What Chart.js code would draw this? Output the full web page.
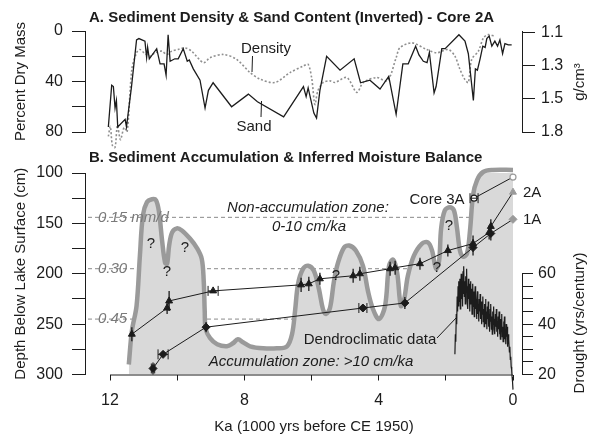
<!DOCTYPE html>
<html>
<head>
<meta charset="utf-8">
<script src="https://cdn.jsdelivr.net/npm/chart.js@4.4.0/dist/chart.umd.min.js"></script>
<style>
  html, body { margin: 0; padding: 0; background: #fff; }
  #wrap { position: relative; width: 593px; height: 434px; }
  #wrap canvas { position: absolute; left: 0; top: 0; }
</style>
</head>
<body>
<div id="wrap">
  <canvas id="bottomChart" width="593" height="434"></canvas>
  <canvas id="topChart" width="593" height="434"></canvas>
</div>
<script>
// ---- Panel A: core 2A profiles, [ka, value] ----
const sandProfile = [
  [12.05,76],[11.95,43],[11.90,44],[11.85,61],[11.81,55],[11.77,76],[11.55,70],[11.51,76],
  [11.36,44],[11.21,7],[11.14,6],[10.96,8],[10.91,21],[10.88,13],[10.83,22],[10.61,14],
  [10.51,26],[10.39,26],[10.33,35],[10.27,3],[10.21,24],[10.07,22],[9.97,22],[9.82,14],
  [9.70,24],[9.64,23],[9.52,30],[9.32,39],[9.17,61],[9.07,47],[8.93,41],[8.38,60],
  [7.88,50],[7.61,56],[6.83,68],[6.24,44],[6.16,52],[6.10,45],[5.93,65],[5.85,69],
  [5.75,47],[5.55,20],[5.15,31],[4.73,22],[4.54,41],[4.26,39],[3.96,46],[3.70,36],
  [3.48,66],[3.28,26],[3.12,26],[2.90,12],[2.80,19],[2.67,24],[2.56,25],[2.49,17],
  [2.35,49],[2.29,44],[2.12,14],[2.02,14],[1.61,3],[1.43,8],[1.33,18],[1.18,55],
  [1.12,30],[1.06,31],[0.98,22],[0.90,12],[0.83,13],[0.78,6],[0.71,4],[0.63,12],
  [0.54,8],[0.46,12],[0.39,7],[0.31,18],[0.24,10],[0.14,11],[0.04,11]
];
// dry bulk density, g/cm3
const densityProfile = [
  [12.05,1.84],[11.99,1.75],[11.93,1.92],[11.85,1.94],[11.78,1.74],[11.69,1.87],[11.58,1.76],
  [11.49,1.80],[11.35,1.32],[11.21,1.22],[11.11,1.20],[10.99,1.22],[10.81,1.24],[10.66,1.22],
  [10.46,1.21],[10.31,1.23],[10.16,1.21],[9.97,1.20],[9.77,1.19],[9.57,1.21],[9.22,1.28],
  [9.02,1.25],[8.63,1.23],[8.23,1.26],[7.83,1.34],[7.53,1.38],[7.09,1.40],[6.64,1.34],
  [6.24,1.30],[6.10,1.29],[5.99,1.38],[5.90,1.55],[5.81,1.45],[5.65,1.40],[5.45,1.39],
  [5.30,1.40],[4.95,1.37],[4.65,1.46],[4.46,1.40],[4.06,1.37],[3.74,1.39],[3.48,1.25],
  [3.37,1.19],[3.01,1.16],[2.57,1.20],[2.27,1.22],[1.93,1.20],[1.73,1.24],[1.58,1.32],
  [1.44,1.38],[1.33,1.40],[1.23,1.26],[1.03,1.21],[0.88,1.13],[0.74,1.11],[0.54,1.12]
];
const pctTicks = [0, 20, 40, 60, 80];
const densityTickLabels = ['1.1', '', '1.3', '', '1.5', '', '1.8'];
const densityLabelled = [1.1, 1.3, 1.5, 1.8];   // evenly spaced on the axis

// ---- Panel B: accumulation, [ka, depth cm] ----
const moistureEnvelope = [
  [11.44,290],[11.35,257],[11.21,232],[11.11,182],[11.02,142],[10.90,129],[10.75,126],
  [10.63,127],[10.54,139],[10.45,167],[10.36,189],[10.30,190],[10.24,172],[10.15,159],
  [10.01,155],[9.86,157],[9.62,165],[9.42,174],[9.27,185],[9.21,207],[9.18,237],[9.15,255],
  [9.02,264],[8.81,270],[8.52,272],[8.34,269],[8.19,265],[8.04,268],[7.83,272],[7.44,274],
  [7.03,274],[6.73,272],[6.58,260],[6.49,237],[6.40,210],[6.25,195],[6.10,192],[5.93,197],
  [5.78,215],[5.66,235],[5.57,240],[5.45,234],[5.33,207],[5.21,189],[5.03,174],[4.88,172],
  [4.68,177],[4.47,192],[4.32,217],[4.17,235],[3.99,245],[3.81,232],[3.69,192],[3.57,186],
  [3.45,199],[3.34,232],[3.25,227],[3.13,202],[2.95,182],[2.71,170],[2.53,169],[2.41,177],
  [2.29,195],[2.20,187],[2.14,155],[2.03,137],[1.88,134],[1.76,137],[1.67,154],[1.58,177],
  [1.49,183],[1.37,180],[1.28,157],[1.19,122],[1.07,107],[0.89,99],[0.60,97],[0.00,97]
];
const core2A = [[11.35,260],[10.30,234],[10.24,227],[8.93,217],[6.31,211],[6.08,210],[5.75,205],
  [4.76,202],[4.56,200],[3.66,195],[3.51,194],[2.77,190],[1.94,177],[1.19,170],[0.71,159],
  [0.66,153],[0,119]];
// [age half-range ka, depth half-range cm]
const core2AErr = [[0,7],[0,6],[0,10],[0.15,0],[0,7],[0,7],[0,6],[0,7],[0,7],[0,7],[0,7],
  [0,6],[0,6],[0,8],[0,7],[0,7],[0,0]];
const core1A = [[10.72,294],[10.42,280],[9.14,253],[4.47,234],[3.22,229],[1.19,174],[0.66,160],[0,146]];
const core1AErr = [[0.05,6],[0.15,0],[0,5],[0.12,0],[0,6],[0,8],[0,7],[0,0]];
const core3A = [[1.16,125],[0,104]];
const core3AErr = [[0.12,0],[0,0]];
// tree-ring drought frequency, yrs/century, oldest first
const dendroStartKa = 1.73;
const dendroDrought = [
  28,36,33,44,40,51,45,55,47,57,
  49,58,46,54,60,50,56,47,61,52,63,51,57,48,59,53,62,49,55,46,
  58,50,56,45,53,57,48,54,44,52,56,47,53,43,51,55,46,50,42,49,
  53,44,48,41,50,45,52,42,47,40,49,44,51,41,46,39,48,43,50,40,
  45,38,47,42,49,39,44,37,46,41,48,38,43,36,45,40,47,38,42,36,
  44,39,46,37,41,35,43,38,45,36,40,34,42,37,44,35,39,33,41,36,
  43,34,38,32,40,35,39,31,36,33,
  34,29,31,26,27,23,22,19,17,14];
const moistureLines = [
  { depth: 144, label: '0.15 mm/d' },
  { depth: 195, label: '0.30' },
  { depth: 245, label: '0.45' }
];
const kaTicks = [12, 10, 8, 6, 4, 2, 0];
const depthTicks = [100, 125, 150, 175, 200, 225, 250, 275, 300];
const droughtTicks = [20, 25, 30, 35, 40, 45, 50, 55, 60];

// ---------------------------------------------------------------
const FONT = '"Liberation Sans", Arial, Helvetica, sans-serif';
const INK = '#1c1c1c';
const GREY = '#9a9a9a';
const X_MIN = -0.268, X_MAX = 12.745;

const pts = arr => arr.map(([x, y]) => ({ x, y }));

function densityToAxis(g) {
  for (let i = 0; i < densityLabelled.length - 1; i++) {
    const a = densityLabelled[i], b = densityLabelled[i + 1];
    if (g <= b || i === densityLabelled.length - 2) return 2 * i + 2 * (g - a) / (b - a);
  }
}

function text(ctx, str, x, y, o = {}) {
  ctx.save();
  ctx.font = `${o.style || 'normal'} ${o.weight || 'normal'} ${o.size || 15}px ${FONT}`;
  ctx.fillStyle = o.color || INK;
  ctx.textAlign = o.align || 'center';
  ctx.textBaseline = 'middle';
  ctx.translate(x, y);
  if (o.rotate) ctx.rotate(o.rotate);
  ctx.fillText(str, 0, 0);
  ctx.restore();
}
function line(ctx, x1, y1, x2, y2, color = INK, w = 1, dash = []) {
  ctx.save();
  ctx.strokeStyle = color; ctx.lineWidth = w; ctx.setLineDash(dash);
  ctx.beginPath(); ctx.moveTo(x1, y1); ctx.lineTo(x2, y2); ctx.stroke();
  ctx.restore();
}

const axisGrid = len => ({ drawOnChartArea: false, drawTicks: true, tickLength: len, color: INK, lineWidth: 1 });
const tickFont = { family: FONT, size: 16 };

// ---------------- bottom panel ----------------
const lastBlackGrey = ctx => ctx.dataIndex === ctx.dataset.data.length - 1 ? GREY : INK;

const bottomPlugin = {
  id: 'bottomDecor',
  beforeDatasetsDraw(chart) {
    const { ctx, chartArea: a, scales: { y } } = chart;
    moistureLines.forEach(m => {
      const py = y.getPixelForValue(m.depth);
      line(ctx, a.left + 3, py, a.right - 10, py, '#8a8a8a', 1, [4, 3]);
    });
  },
  afterDatasetsDraw(chart) {
    const { ctx, scales: { x, y } } = chart;
    chart.data.datasets.forEach(ds => {
      if (!ds.errBars) return;
      ds.errBars.forEach(([ea, ed], i) => {
        const age = ds.data[i].x, depth = ds.data[i].y;
        const px = x.getPixelForValue(age), py = y.getPixelForValue(depth);
        if (ed > 0) line(ctx, px, y.getPixelForValue(depth - ed), px, y.getPixelForValue(depth + ed), INK, 1.3);
        if (ea > 0) {
          const x1 = x.getPixelForValue(age + ea), x2 = x.getPixelForValue(age - ea);
          line(ctx, x1, py, x2, py, INK, 1);
          line(ctx, x1, py - 5, x1, py + 5, INK, 1);
          line(ctx, x2, py - 5, x2, py + 5, INK, 1);
        }
      });
    });
  },
  afterDraw(chart) {
    const { ctx, chartArea: a, scales: { x, y, yD } } = chart;
    // axis lines that span only the tick range
    line(ctx, x.getPixelForValue(12), a.bottom + 0.5, x.getPixelForValue(0), a.bottom + 0.5);
    line(ctx, a.right + 0.5, yD.getPixelForValue(20), a.right + 0.5, yD.getPixelForValue(60));

    text(ctx, 'B. Sediment Accumulation & Inferred Moisture Balance', 89, 158, { weight: 'bold', size: 15, align: 'left' });
    text(ctx, 'Depth Below Lake Surface (cm)', 21, (a.top + a.bottom) / 2, { rotate: -Math.PI / 2 });
    text(ctx, 'Drought (yrs/century)', 580, 323, { rotate: -Math.PI / 2 });
    text(ctx, 'Ka (1000 yrs before CE 1950)', 314, 427);

    moistureLines.forEach(m => {
      text(ctx, m.label, 98, y.getPixelForValue(m.depth), { style: 'italic', color: '#7a7a7a', align: 'left' });
    });
    text(ctx, 'Non-accumulation zone:', 308, 208, { style: 'italic' });
    text(ctx, '0-10 cm/ka', 309, 227, { style: 'italic' });
    text(ctx, 'Accumulation zone: >10 cm/ka', 311, 362, { style: 'italic' });
    text(ctx, 'Dendroclimatic data', 370, 340);
    line(ctx, 437, 338, 457, 317);
    text(ctx, 'Core 3A', 437, 200);
    text(ctx, '2A', 523, 193, { align: 'left' });
    text(ctx, '1A', 523, 220, { align: 'left' });
    [[151, 244], [185, 248], [167, 272], [336, 276], [437, 268], [449, 226]].forEach(([qx, qy]) => text(ctx, '?', qx, qy));
  }
};

new Chart(document.getElementById('bottomChart'), {
  type: 'line',
  data: {
    datasets: [
      { label: 'Core 3A', data: pts(core3A), errBars: core3AErr, borderColor: INK, borderWidth: 1,
        pointStyle: 'circle', pointRadius: 3, pointBackgroundColor: '#fff', pointBorderColor: lastBlackGrey,
        pointBorderWidth: 1.2, order: 1 },
      { label: '2A', data: pts(core2A), errBars: core2AErr, borderColor: INK, borderWidth: 1,
        pointStyle: 'triangle', pointRadius: 4, pointBackgroundColor: lastBlackGrey, pointBorderColor: lastBlackGrey, order: 2 },
      { label: '1A', data: pts(core1A), errBars: core1AErr, borderColor: INK, borderWidth: 1,
        pointStyle: 'rectRot', pointRadius: 4, pointBackgroundColor: lastBlackGrey, pointBorderColor: lastBlackGrey, order: 3 },
      { label: 'Dendroclimatic', yAxisID: 'yD', borderColor: INK, borderWidth: 1.2, pointRadius: 0, order: 4,
        data: dendroDrought.map((v, i) => ({ x: dendroStartKa * (1 - i / (dendroDrought.length - 1)), y: v })) },
      { label: 'Moisture balance', data: pts(moistureEnvelope), borderColor: GREY, borderWidth: 4.5,
        backgroundColor: '#d9d9d9', fill: { value: 300 }, tension: 0.35, pointRadius: 0, order: 10 }
    ]
  },
  options: {
    responsive: false, animation: false, events: [],
    layout: { padding: { top: 173, left: 0, right: 0, bottom: 0 } },
    plugins: { legend: { display: false }, tooltip: { enabled: false } },
    datasets: { line: { clip: false } },
    scales: {
      x: {
        type: 'linear', reverse: true, min: X_MIN, max: X_MAX,
        afterBuildTicks: s => { s.ticks = kaTicks.map(value => ({ value })); },
        afterFit: s => { s.height = 59.5; },
        grid: axisGrid(6), border: { display: false },
        ticks: { autoSkip: false, maxRotation: 0, padding: 10, color: INK, font: tickFont,
          callback: v => (v % 4 === 0 ? v : '') }
      },
      y: {
        type: 'linear', position: 'left', reverse: true, min: 100, max: 300,
        afterBuildTicks: s => { s.ticks = depthTicks.map(value => ({ value })); },
        afterFit: s => { s.width = 85; },
        grid: axisGrid(13), border: { display: true, color: INK, width: 1 },
        ticks: { padding: 9, color: INK, font: tickFont, callback: v => (v % 50 === 0 ? v : '') }
      },
      yD: {
        type: 'linear', position: 'right', min: 20, max: 100,
        afterBuildTicks: s => { s.ticks = droughtTicks.map(value => ({ value })); },
        afterFit: s => { s.width = 71; },
        grid: axisGrid(11), border: { display: false },
        ticks: { padding: 5, color: INK, font: tickFont, callback: v => (v % 20 === 0 ? v : '') }
      }
    }
  },
  plugins: [bottomPlugin]
});

// ---------------- top panel ----------------
const topPlugin = {
  id: 'topDecor',
  afterDraw(chart) {
    const { ctx, chartArea: a } = chart;
    text(ctx, 'A. Sediment Density & Sand Content (Inverted) - Core 2A', 89, 18, { weight: 'bold', size: 15, align: 'left' });
    text(ctx, 'Percent Dry Mass', 21, (a.top + a.bottom) / 2, { rotate: -Math.PI / 2 });
    text(ctx, 'g/cm\u00B3', 580, 82, { rotate: -Math.PI / 2 });
    text(ctx, 'Density', 266, 49);
    line(ctx, 252.5, 56, 252, 72);
    text(ctx, 'Sand', 254, 127);
    line(ctx, 261.5, 101, 261, 117);
  }
};

new Chart(document.getElementById('topChart'), {
  type: 'line',
  data: {
    datasets: [
      { label: 'Sand', data: pts(sandProfile), borderColor: INK, borderWidth: 1.3, pointRadius: 0, order: 1 },
      { label: 'Density', yAxisID: 'yR', borderColor: '#8f8f8f', borderWidth: 1.6, borderDash: [2, 2],
        pointRadius: 0, tension: 0.3, order: 2,
        data: densityProfile.map(([x, g]) => ({ x, y: densityToAxis(g) })) }
    ]
  },
  options: {
    responsive: false, animation: false, events: [],
    layout: { padding: { top: 31, left: 0, right: 0, bottom: 302 } },
    plugins: { legend: { display: false }, tooltip: { enabled: false } },
    datasets: { line: { clip: false } },
    scales: {
      x: { type: 'linear', reverse: true, min: X_MIN, max: X_MAX, display: false },
      y: {
        type: 'linear', position: 'left', reverse: true, min: 0, max: 80,
        afterBuildTicks: s => { s.ticks = pctTicks.map(value => ({ value })); },
        afterFit: s => { s.width = 85; },
        grid: axisGrid(13), border: { display: true, color: INK, width: 1 },
        ticks: { padding: 9, color: INK, font: tickFont, callback: v => (v % 40 === 0 ? v : '') }
      },
      yR: {
        type: 'linear', position: 'right', reverse: true, min: -0.12, max: 6,
        afterBuildTicks: s => { s.ticks = densityTickLabels.map((_, value) => ({ value })); },
        afterFit: s => { s.width = 71; },
        grid: axisGrid(13), border: { display: true, color: INK, width: 1 },
        ticks: { padding: 6, color: INK, font: tickFont, callback: v => densityTickLabels[v] }
      }
    }
  },
  plugins: [topPlugin]
});
</script>
</body>
</html>
